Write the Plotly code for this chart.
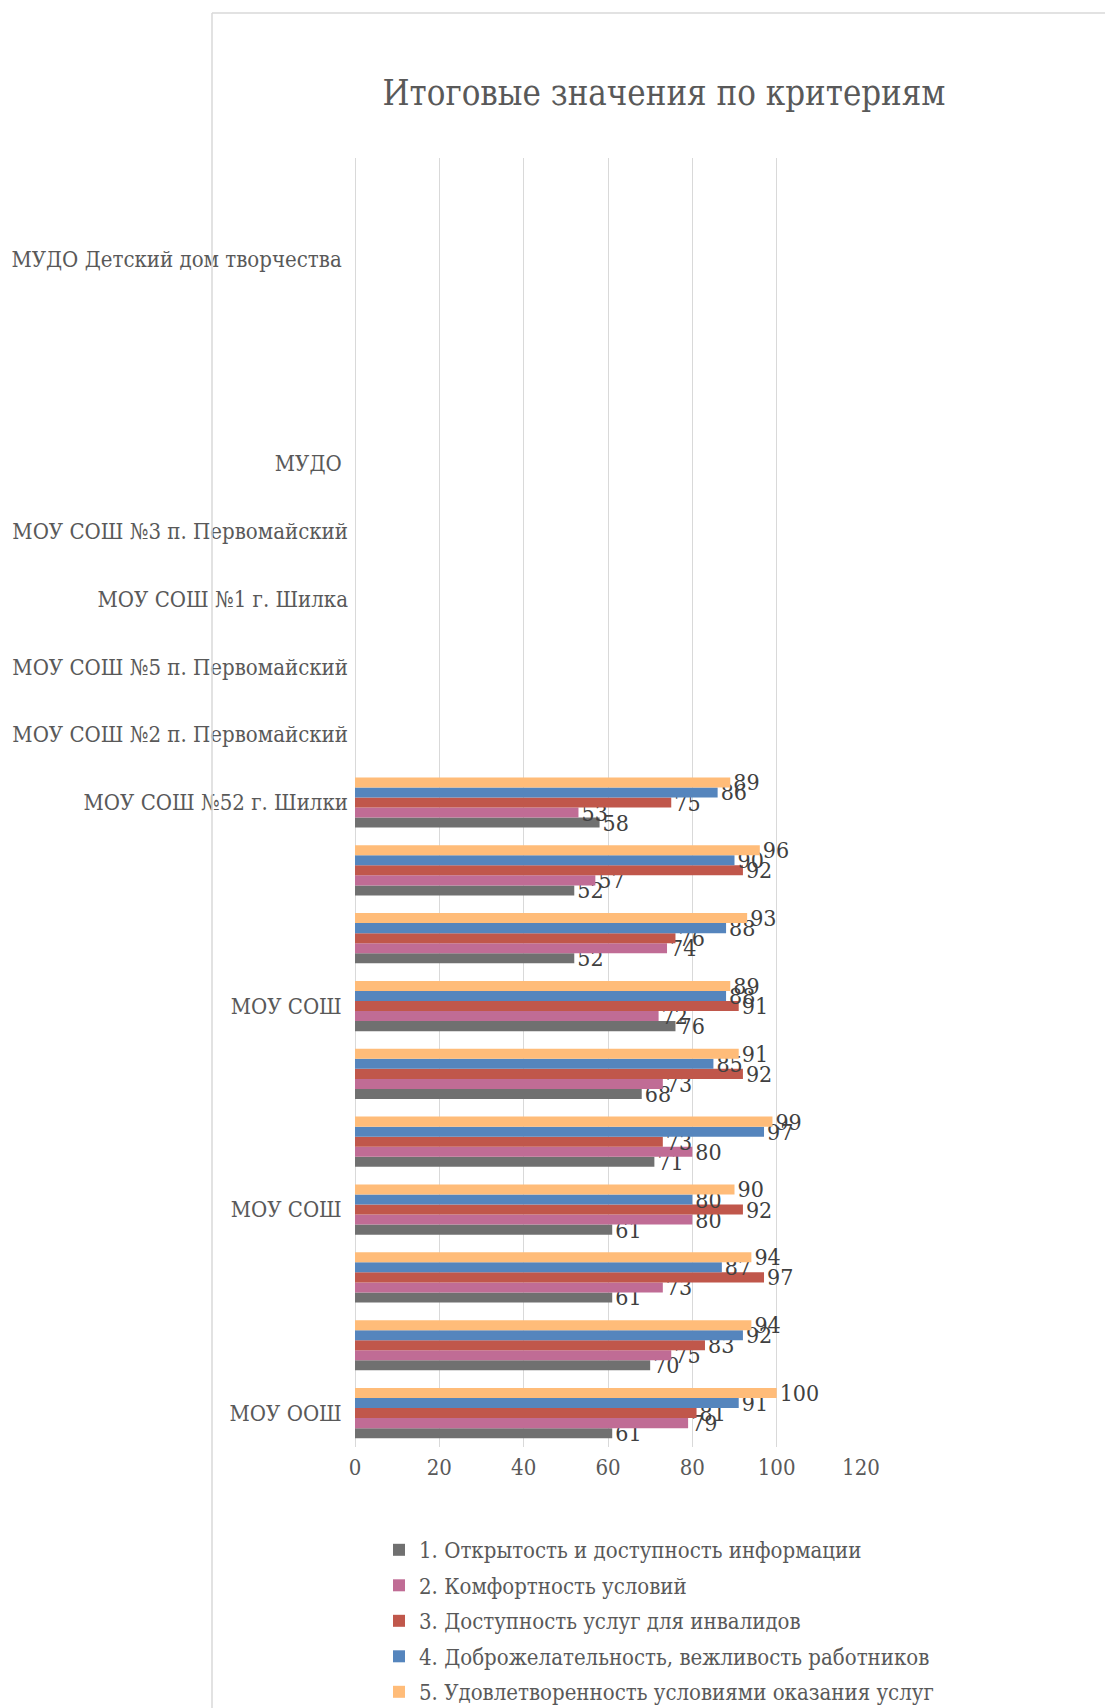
import plotly.graph_objects as go

# Categories, top to bottom (blank labels are categories whose labels are hidden in the source)
categories = [
    "",
    "МУДО Детский дом творчества\u00a0",
    "",
    "",
    "МУДО\u00a0",
    "МОУ СОШ №3 п. Первомайский",
    "МОУ СОШ №1 г. Шилка",
    "МОУ СОШ №5 п. Первомайский",
    "МОУ СОШ №2 п. Первомайский",
    "МОУ СОШ №52 г. Шилки",
    "",
    "",
    "МОУ СОШ\u00a0",
    "",
    "",
    "МОУ СОШ\u00a0",
    "",
    "",
    "МОУ ООШ\u00a0",
]

series_names = [
    "1. Открытость и доступность информации",
    "2. Комфортность условий",
    "3. Доступность услуг для инвалидов",
    "4. Доброжелательность, вежливость работников",
    "5. Удовлетворенность условиями оказания услуг",
]

N = None
s1_open = [N, N, N, N, N, N, N, N, N, 58, 52, 52, 76, 68, 71, 61, 61, 70, 61]
s2_comfort = [N, N, N, N, N, N, N, N, N, 53, 57, 74, 72, 73, 80, 80, 73, 75, 79]
s3_access = [N, N, N, N, N, N, N, N, N, 75, 92, 76, 91, 92, 73, 92, 97, 83, 81]
s4_polite = [N, N, N, N, N, N, N, N, N, 86, 90, 88, 88, 85, 97, 80, 87, 92, 91]
s5_satisf = [N, N, N, N, N, N, N, N, N, 89, 96, 93, 89, 91, 99, 90, 94, 94, 100]

x_ticks = [0, 20, 40, 60, 80, 100, 120]

colors = ["#707070", "#c06c95", "#c0574b", "#5585bd", "#ffbc79"]
all_series = [s1_open, s2_comfort, s3_access, s4_polite, s5_satisf]

FONT = "DejaVu Serif Condensed, DejaVu Serif, serif"
n = len(categories)
# numeric positions: first category at the top
positions = [n - 1 - i for i in range(n)]

fig = go.Figure()
for i, (name, vals, col) in enumerate(zip(series_names, all_series, colors)):
    fig.add_trace(go.Bar(
        name=name,
        x=vals,
        y=positions,
        orientation="h",
        marker=dict(color=col, line=dict(width=0)),
        text=[("" if v is None else str(v)) for v in vals],
        textposition="outside",
        constraintext="none",
        cliponaxis=False,
        textfont=dict(family=FONT, size=23, color="#404040"),
        legendgroup="g%d" % i,
        hoverinfo="x+name",
    ))

# body margin is removed by post_script, so figure px == screen px
W, H = 1105, 1708
L, R, T, B = 355, 861, 158, 1447

def px_x(p):  # screen px -> paper x
    return (p - L) / (R - L)

def px_y(p):  # screen px -> paper y
    return (B - p) / (B - T)

shapes = [
    dict(type="line", xref="paper", yref="paper", x0=px_x(212), x1=px_x(1120),
         y0=px_y(13), y1=px_y(13), line=dict(color="#d9d9d9", width=1.5)),
    dict(type="line", xref="paper", yref="paper", x0=px_x(212), x1=px_x(212),
         y0=px_y(13), y1=px_y(1730), line=dict(color="#d9d9d9", width=1.5)),
]

fig.update_layout(
    width=W, height=H,
    margin=dict(l=L, r=W - R, t=T, b=H - B, autoexpand=False),
    paper_bgcolor="white",
    plot_bgcolor="white",
    barmode="group",
    bargap=0.26,
    bargroupgap=0,
    font=dict(family=FONT, size=22, color="#595959"),
    title=dict(
        text="Итоговые значения по критериям",
        font=dict(family=FONT, size=34.5, color="#595959"),
        xref="container", x=664 / W, xanchor="center",
        yref="container", y=1 - 93 / H, yanchor="middle",
    ),
    xaxis=dict(
        range=[0, 120],
        tickvals=x_ticks,
        ticktext=[str(t) for t in x_ticks],
        showgrid=True, gridcolor="#d9d9d9", gridwidth=1,
        zeroline=True, zerolinecolor="#d9d9d9", zerolinewidth=1,
        showline=False, ticks="",
        ticklabelstandoff=5,
        tickfont=dict(family=FONT, size=22, color="#595959"),
        fixedrange=True,
    ),
    yaxis=dict(
        range=[-0.5, n - 0.5],
        tickvals=positions,
        ticktext=categories,
        showgrid=False, zeroline=False, showline=False, ticks="",
        ticklabelstandoff=6,
        tickfont=dict(family=FONT, size=22, color="#595959"),
        fixedrange=True,
    ),
    showlegend=True,
    legend=dict(
        orientation="v",
        x=px_x(379), xanchor="left",
        y=px_y(1529), yanchor="top",
        traceorder="grouped",
        tracegroupgap=3.9,
        font=dict(family=FONT, size=22, color="#595959"),
        bgcolor="rgba(0,0,0,0)",
        itemclick=False, itemdoubleclick=False,
    ),
    shapes=shapes,
)

fig.write_html(
    "out.html",
    config={"displayModeBar": False},
    post_script="document.body.style.margin='0';document.body.style.overflow='hidden';",
)
